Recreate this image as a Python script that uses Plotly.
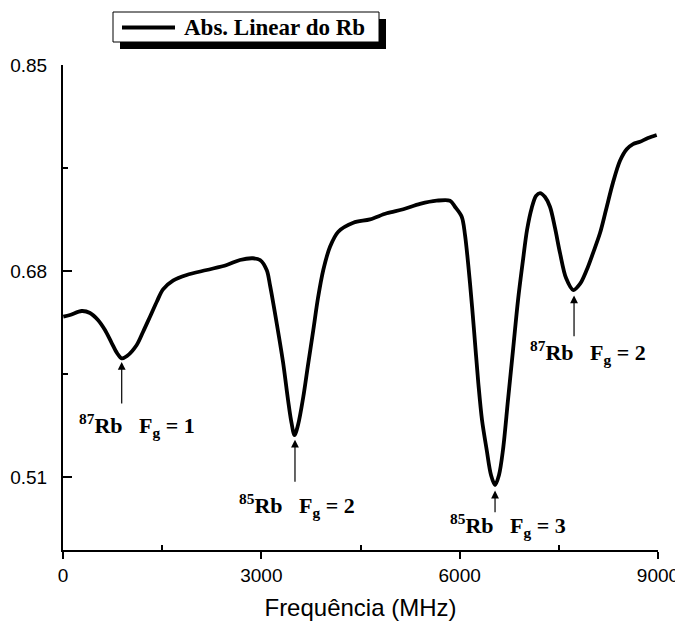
import plotly.graph_objects as go

# Frequency (MHz) and linear absorption signal
freq = [5, 106, 283, 408, 529, 635, 737, 817, 888, 968, 1115, 1210, 1316, 1422, 1513,
        1664, 1871, 2174, 2476, 2677, 2874, 2980, 3081, 3131, 3237, 3328, 3404, 3449,
        3502, 3555, 3635, 3706, 3786, 3857, 3937, 4039, 4164, 4391, 4644, 4896, 5147,
        5400, 5652, 5854, 5929, 6031, 6081, 6156, 6217, 6282, 6338, 6409, 6474, 6535,
        6595, 6655, 6731, 6807, 6883, 6958, 7019, 7090, 7155, 7215, 7291, 7366, 7442,
        7518, 7609, 7719, 7820, 7921, 8017, 8123, 8213, 8319, 8425, 8526, 8622, 8728,
        8849, 8980]
absorb = [0.6424, 0.6438, 0.6471, 0.6455, 0.6397, 0.6314, 0.6207, 0.6125, 0.6081, 0.6100,
          0.6191, 0.6298, 0.6424, 0.6552, 0.6650, 0.6722, 0.6768, 0.6809, 0.6850, 0.6892,
          0.6906, 0.6892, 0.6809, 0.6685, 0.6356, 0.6050, 0.5737, 0.5572, 0.5448, 0.5531,
          0.5764, 0.6026, 0.6314, 0.6578, 0.6809, 0.7001, 0.7125, 0.7199, 0.7227, 0.7277,
          0.7310, 0.7354, 0.7381, 0.7381, 0.7331, 0.7249, 0.7098, 0.6702, 0.6314, 0.5877,
          0.5572, 0.5325, 0.5119, 0.5036, 0.5119, 0.5325, 0.5737, 0.6149, 0.6562, 0.6892,
          0.7139, 0.7321, 0.7420, 0.7444, 0.7411, 0.7331, 0.7156, 0.6949, 0.6743, 0.6644,
          0.6694, 0.6809, 0.6949, 0.7114, 0.7304, 0.7530, 0.7710, 0.7805, 0.7848, 0.7867,
          0.7898, 0.7923]

series_name = "Abs. Linear do Rb"

x_ticks = [0, 3000, 6000, 9000]
x_minor = [1500, 4500, 7500]
y_ticks = [0.51, 0.68, 0.85]
y_tick_text = ["0.51", "0.68", "0.85"]
y_minor = [0.595, 0.765]

# Peak labels: text, text position, arrow head, arrow tail
peak_labels = ["<sup>87</sup>Rb\u00a0\u00a0\u00a0F<sub>g</sub> = 1",
               "<sup>85</sup>Rb\u00a0\u00a0\u00a0F<sub>g</sub> = 2",
               "<sup>85</sup>Rb\u00a0\u00a0\u00a0F<sub>g</sub> = 3",
               "<sup>87</sup>Rb\u00a0\u00a0\u00a0F<sub>g</sub> = 2"]
label_x = [1119, 3540, 6731, 7941]
label_y = [0.553, 0.487, 0.4706, 0.6133]
arrow_x = [888, 3509, 6535, 7730]
arrow_head_y = [0.605, 0.541, 0.499, 0.660]
arrow_tail_y = [0.5696, 0.505, 0.480, 0.625]

serif = "Liberation Serif"
sans = "Liberation Sans"

# The page has an 8 px body margin, so the figure is 8 px smaller than the window
OFF = 8
W, H = 683 - OFF, 626 - OFF
L, R, T, B = 63 - OFF, 25, 65 - OFF, 76
pw, ph = W - L - R, H - T - B


def px(xp):
    return (xp - OFF - L) / pw


def py(yp):
    return (H + OFF - B - yp) / ph


fig = go.Figure()
fig.add_trace(go.Scatter(
    x=freq, y=absorb, mode="lines", name=series_name, showlegend=False,
    line=dict(color="black", width=3.8, shape="spline", smoothing=0.9),
))

annotations = []
for t, lx, ly in zip(peak_labels, label_x, label_y):
    annotations.append(dict(x=lx, y=ly, xref="x", yref="y", text=t, showarrow=False,
                            font=dict(family=serif, size=22, color="black", weight="bold")))
for ax_, hy, ty in zip(arrow_x, arrow_head_y, arrow_tail_y):
    annotations.append(dict(x=ax_, y=hy, ax=ax_, ay=ty, xref="x", yref="y",
                            axref="x", ayref="y", text="", showarrow=True,
                            arrowhead=2, arrowsize=1.3, arrowwidth=1.2,
                            arrowcolor="black", standoff=0, startstandoff=0))

# Legend box (drawn by hand to get the shadowed frame of the original)
annotations.append(dict(x=px(182), y=py(27.5), xref="paper", yref="paper",
                        xanchor="left", yanchor="middle", text=series_name,
                        showarrow=False,
                        font=dict(family=serif, size=23, color="black", weight="bold")))
shapes = [
    dict(type="rect", xref="paper", yref="paper", x0=px(120), x1=px(386),
         y0=py(49), y1=py(19), fillcolor="black", line=dict(width=0), layer="above"),
    dict(type="rect", xref="paper", yref="paper", x0=px(113), x1=px(379),
         y0=py(42), y1=py(12), fillcolor="white", line=dict(color="black", width=1),
         layer="above"),
    dict(type="line", xref="paper", yref="paper", x0=px(122), x1=px(175),
         y0=py(27.5), y1=py(27.5), line=dict(color="black", width=3.8), layer="above"),
]

fig.update_layout(
    width=W, height=H,
    margin=dict(l=L, r=R, t=T, b=B, autoexpand=False),
    paper_bgcolor="white", plot_bgcolor="white",
    showlegend=False,
    annotations=annotations,
    shapes=shapes,
    xaxis=dict(range=[0, 9000], showline=True, linecolor="black", linewidth=2,
               showgrid=False, zeroline=False, automargin=False,
               tickmode="array", tickvals=x_ticks, ticks="outside", ticklen=7,
               tickwidth=1.5, tickcolor="black",
               minor=dict(tickmode="array", tickvals=x_minor, ticks="inside",
                          ticklen=5, tickwidth=1.5, tickcolor="black", showgrid=False),
               tickfont=dict(family=sans, size=19, color="black"),
               title=dict(text="Frequência (MHz)", font=dict(family=sans, size=24, color="black"),
                          standoff=14)),
    yaxis=dict(range=[0.45, 0.85], showline=True, linecolor="black", linewidth=2,
               showgrid=False, zeroline=False, automargin=False,
               tickmode="array", tickvals=y_ticks, ticktext=y_tick_text,
               ticks="inside", ticklen=9, tickwidth=1.5, tickcolor="black",
               ticklabelstandoff=10,
               minor=dict(tickmode="array", tickvals=y_minor, ticks="inside",
                          ticklen=5, tickwidth=1.5, tickcolor="black", showgrid=False),
               tickfont=dict(family=sans, size=19, color="black")),
)

fig.write_html("out.html")
